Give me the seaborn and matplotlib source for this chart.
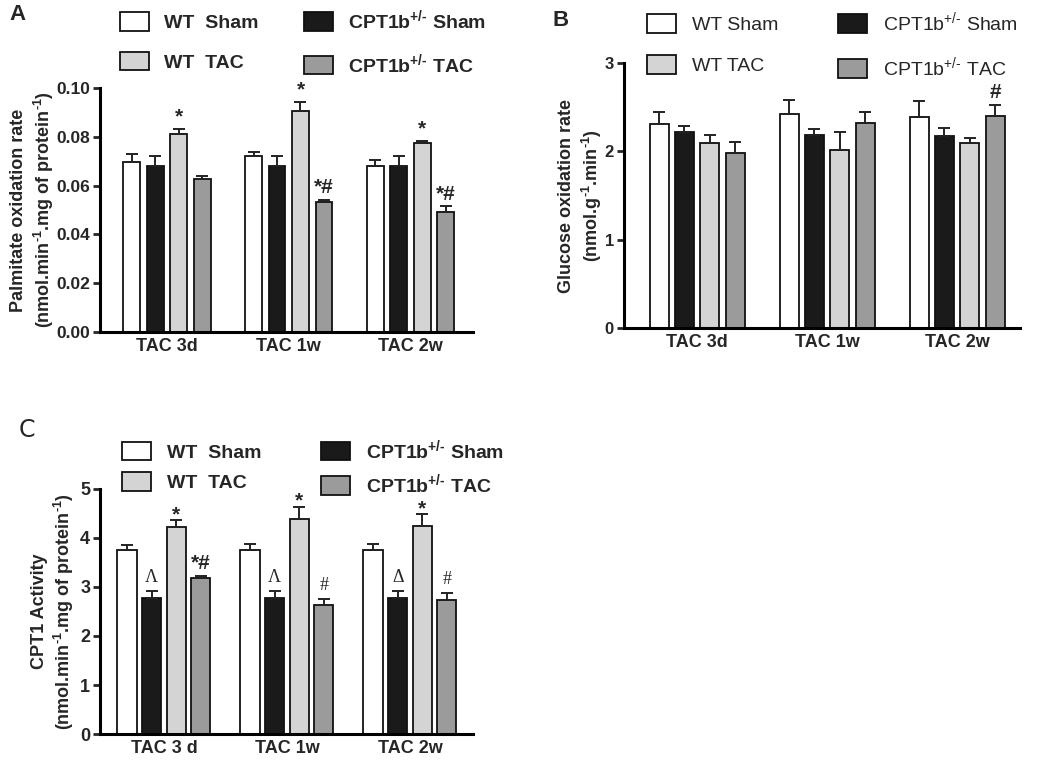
import numpy as np
import pandas as pd
import matplotlib
matplotlib.use("Agg")
import matplotlib.pyplot as plt
import seaborn as sns

# groupes et couleurs
groups = ["wt_sham", "ko_sham", "wt_tac", "ko_tac"]
colors = ["#ffffff", "#1a1a1a", "#d4d4d4", "#9b9b9b"]

# A : palmitate
times_A = ["TAC 3d", "TAC 1w", "TAC 2w"]
palm_wt_sham = [0.0696, 0.0723, 0.0680]
palm_ko_sham = [0.0680, 0.0680, 0.0680]
palm_wt_tac = [0.0810, 0.0907, 0.0773]
palm_ko_tac = [0.0625, 0.0532, 0.0492]
palm_err_wt_sham = [0.0033, 0.0015, 0.0023]
palm_err_ko_sham = [0.0041, 0.0040, 0.0040]
palm_err_wt_tac = [0.0023, 0.0034, 0.0009]
palm_err_ko_tac = [0.0015, 0.0009, 0.0023]
palm_marks_wt_tac = ["*", "*", "*"]
palm_marks_ko_tac = ["", "*#", "*#"]

# B : glucose
times_B = ["TAC 3d", "TAC 1w", "TAC 2w"]
gluc_wt_sham = [2.31, 2.42, 2.39]
gluc_ko_sham = [2.215, 2.18, 2.17]
gluc_wt_tac = [2.09, 2.01, 2.10]
gluc_ko_tac = [1.98, 2.32, 2.40]
gluc_err_wt_sham = [0.13, 0.16, 0.18]
gluc_err_ko_sham = [0.075, 0.07, 0.09]
gluc_err_wt_tac = [0.095, 0.205, 0.055]
gluc_err_ko_tac = [0.13, 0.125, 0.13]
gluc_marks_ko_tac = ["", "", "#"]

# C : CPT1
times_C = ["TAC 3 d", "TAC 1w", "TAC 2w"]
cpt_wt_sham = [3.75, 3.75, 3.75]
cpt_ko_sham = [2.77, 2.77, 2.77]
cpt_wt_tac = [4.22, 4.39, 4.25]
cpt_ko_tac = [3.19, 2.64, 2.73]
cpt_err_wt_sham = [0.11, 0.12, 0.12]
cpt_err_ko_sham = [0.14, 0.14, 0.14]
cpt_err_wt_tac = [0.15, 0.25, 0.23]
cpt_err_ko_tac = [0.04, 0.11, 0.14]
cpt_marks_ko_sham = ["\u039b", "\u039b", "\u0394"]
cpt_marks_wt_tac = ["*", "*", "*"]
cpt_marks_ko_tac = ["*#", "#", "#"]

sns.set_style("ticks")
plt.rcParams["font.family"] = ["Liberation Sans", "DejaVu Sans"]
plt.rcParams["mathtext.fontset"] = "custom"
plt.rcParams["mathtext.rm"] = "Liberation Sans"
plt.rcParams["mathtext.bf"] = "Liberation Sans:bold"
plt.rcParams["mathtext.default"] = "regular"

fig = plt.figure(figsize=(10.5, 7.6), dpi=100)
axA = fig.add_axes([0.0952, 0.5632, 0.355, 0.321])
axB = fig.add_axes([0.594, 0.5684, 0.377, 0.3487])
axC = fig.add_axes([0.0952, 0.0342, 0.355, 0.3224])


def panel(ax, times, values, errs, marks, ylim, yticks, yfmt, ylabel, label_x,
          legend_labels, leg_bold, leg_anchor, leg_kw, width, gap, xlim, fs=13,
          star_dy=2):
    df = pd.DataFrame({
        "time": np.tile(times, len(groups)),
        "group": np.repeat(groups, len(times)),
        "value": np.concatenate(values),
    })
    sns.barplot(data=df, x="time", y="value", hue="group", hue_order=groups,
                palette=colors, width=width, gap=gap, errorbar=None,
                edgecolor="#111111", linewidth=1.3, saturation=1, ax=ax)
    bar_sets = list(ax.containers)[:len(groups)]
    for i, cont in enumerate(bar_sets):
        xs = np.array([b.get_x() + b.get_width() / 2 for b in cont])
        ys = np.array([b.get_height() for b in cont])
        e = np.array(errs[i])
        ax.errorbar(xs, ys, yerr=[np.zeros_like(e), e], fmt="none", ecolor="#222222",
                    elinewidth=1.4, capsize=4.5, capthick=1.4, zorder=3)
        if marks[i] is None:
            continue
        for x, y, ee, m in zip(xs, ys, e, marks[i]):
            if not m:
                continue
            if m in ("\u039b", "\u0394", "#") and ax is axC:
                ax.annotate(m, (x, y + ee), xytext=(0, 4), textcoords="offset points",
                            ha="center", va="bottom", fontsize=13,
                            family=["Liberation Serif", "DejaVu Serif"])
            else:
                dy = star_dy if m == "*" else 2
                ax.annotate(m, (x, y + ee), xytext=(0, dy), textcoords="offset points",
                            ha="center", va="bottom", fontsize=15, fontweight="bold")
    ax.set_ylim(*ylim)
    ax.set_yticks(yticks)
    ax.set_yticklabels([yfmt.format(t) for t in yticks], fontsize=fs, fontweight="bold")
    ax.set_xticks(range(len(times)))
    ax.set_xticklabels(times, fontsize=13, fontweight="bold")
    ax.set_xlim(*xlim)
    ax.set_xlabel("")
    ax.set_ylabel(ylabel, fontsize=13, fontweight="bold", linespacing=1.25)
    ax.yaxis.set_label_coords(label_x, 0.5)
    sns.despine(ax=ax)
    for s in ["left", "bottom"]:
        ax.spines[s].set_linewidth(2.2)
        ax.spines[s].set_color("black")
    ax.tick_params(axis="y", width=2, length=5, pad=2)
    ax.tick_params(axis="x", length=0, pad=4)

    handles, _ = ax.get_legend_handles_labels()
    order = [0, 2, 1, 3]
    ax.legend([handles[k] for k in order], [legend_labels[k] for k in order],
              ncol=2, loc="upper left", bbox_to_anchor=leg_anchor,
              bbox_transform=fig.transFigure, frameon=False, borderpad=0,
              borderaxespad=0, handlelength=1.5, handleheight=1.1,
              handletextpad=0.8,
              prop={"size": 14, "weight": "bold" if leg_bold else "normal"},
              **leg_kw)


hy = "\u2010"
bold_labels = ["WT  Sham", r"CPT1b$^{\mathbf{+/" + hy + "}}$ Sham", "WT  TAC",
               r"CPT1b$^{\mathbf{+/" + hy + "}}$ TAC"]
plain_labels = ["WT Sham", "CPT1b$^{+/" + hy + "}$ Sham", "WT TAC",
                "CPT1b$^{+/" + hy + "}$ TAC"]
sup_m1 = r"$^{\mathbf{" + hy + "1}}$"

panel(axA, times_A,
      [palm_wt_sham, palm_ko_sham, palm_wt_tac, palm_ko_tac],
      [palm_err_wt_sham, palm_err_ko_sham, palm_err_wt_tac, palm_err_ko_tac],
      [None, None, palm_marks_wt_tac, palm_marks_ko_tac],
      (0, 0.10), [0, 0.02, 0.04, 0.06, 0.08, 0.10], "{:.2f}",
      "Palmitate oxidation rate\n(nmol.min" + sup_m1 + ".mg of protein" + sup_m1 + ")",
      -0.118, bold_labels, True, (0.114, 0.989),
      {"columnspacing": 2.3, "labelspacing": 1.0}, 0.77, 0.28, (-0.55, 2.51), fs=12.5)

panel(axB, times_B,
      [gluc_wt_sham, gluc_ko_sham, gluc_wt_tac, gluc_ko_tac],
      [gluc_err_wt_sham, gluc_err_ko_sham, gluc_err_wt_tac, gluc_err_ko_tac],
      [None, None, None, gluc_marks_ko_tac],
      (0, 3), [0, 1, 2, 3], "{:d}",
      "Glucose oxidation rate\n(nmol.g" + sup_m1 + ".min" + sup_m1 + ")",
      -0.05, plain_labels, False, (0.616, 0.987),
      {"columnspacing": 3.1, "labelspacing": 1.1}, 0.78, 0.25, (-0.565, 2.48), fs=12)

panel(axC, times_C,
      [cpt_wt_sham, cpt_ko_sham, cpt_wt_tac, cpt_ko_tac],
      [cpt_err_wt_sham, cpt_err_ko_sham, cpt_err_wt_tac, cpt_err_ko_tac],
      [None, cpt_marks_ko_sham, cpt_marks_wt_tac, cpt_marks_ko_tac],
      (0, 5), [0, 1, 2, 3, 4, 5], "{:d}",
      "CPT1 Activity\n(nmol.min" + sup_m1 + ".mg of protein" + sup_m1 + ")",
      -0.063, bold_labels, True, (0.116, 0.424),
      {"columnspacing": 3.1, "labelspacing": 0.55}, 0.8, 0.22, (-0.52, 2.51),
      star_dy=-3)

fig.text(17 / 1050, 1 - 14 / 760, "A", fontsize=16, fontweight="bold", ha="center", va="center")
fig.text(561 / 1050, 1 - 21 / 760, "B", fontsize=16, fontweight="bold", ha="center", va="center")
fig.text(27 / 1050, 1 - 430 / 760, "C", fontsize=17, ha="center", va="center",
         family=["DejaVu Sans"])

fig.savefig("out.png", dpi=100)
plt.close(fig)
